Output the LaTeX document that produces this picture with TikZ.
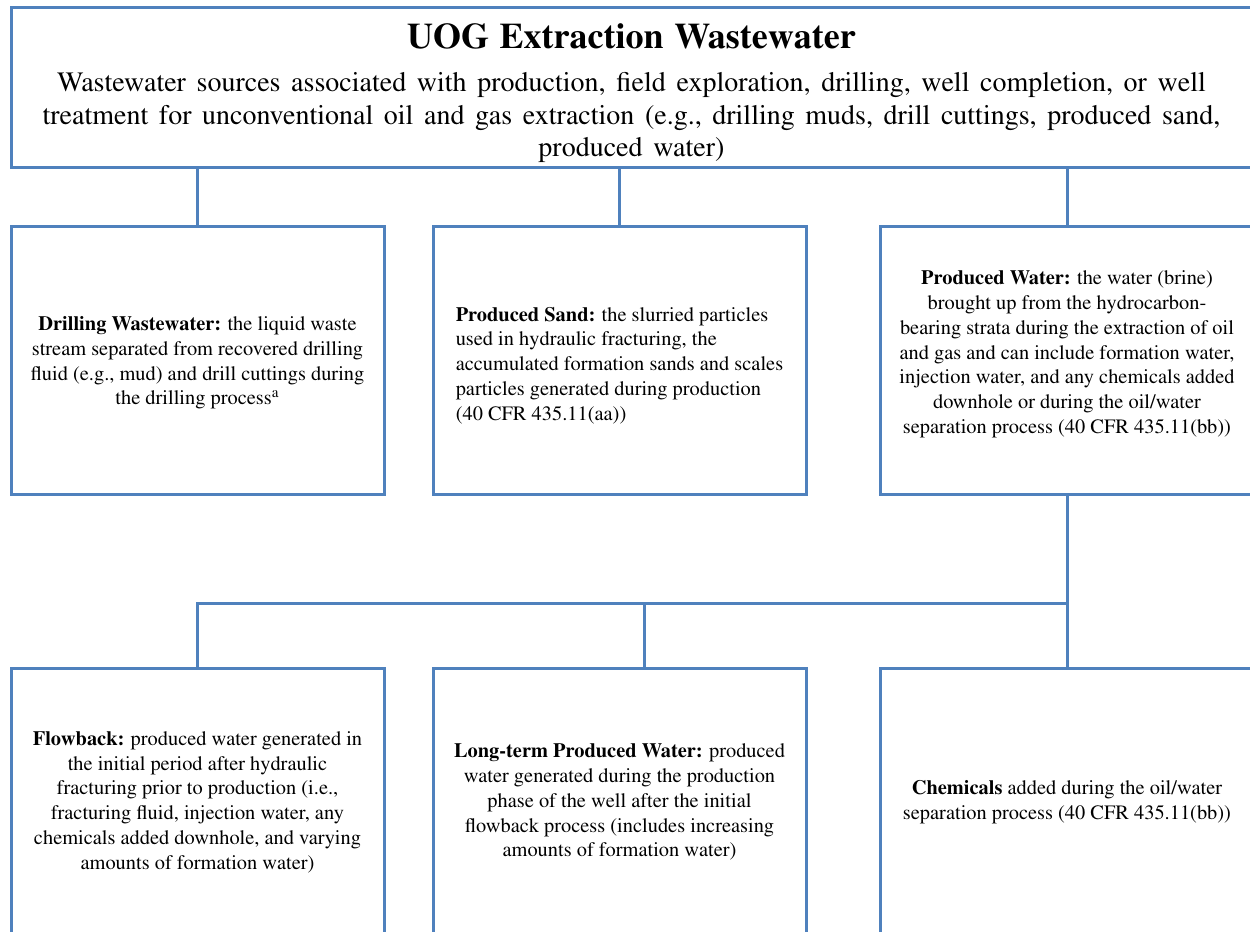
\documentclass[tikz,border=0pt]{standalone}
\usepackage[T1]{fontenc}
\usepackage{mathptmx}
\usepackage{tikz}
\definecolor{uogblue}{HTML}{4F81BD}
\newcommand{\widespace}{\spaceskip=5.3pt\relax}

\begin{document}
\begin{tikzpicture}[x=0.5pt,y=-0.5pt,
		box/.style={draw=uogblue, line width=1.5pt, rectangle, minimum width=186.5pt, minimum height=134pt, align=center, font=\fontsize{10.2}{12.4}\selectfont, inner sep=0pt},
		wire/.style={draw=uogblue, line width=1.5pt}]
			\useasboundingbox (0,0) rectangle (1250,932);
			\clip (0,0) rectangle (1250,932);

			\node[box, minimum width=620.5pt, minimum height=80pt, font=\fontsize{14}{16.25}\selectfont\widespace] (top) at (631.5,87)
				{{\fontsize{18}{20}\selectfont\bfseries\rule{0pt}{19pt}UOG Extraction Wastewater}\\[5.25pt]
				Wastewater sources associated with production, field exploration, drilling, well completion, or well\\
				treatment for unconventional oil and gas extraction (e.g., drilling muds, drill cuttings, produced sand,\\
				produced water)};

			\node[box] (drill) at (197.5,360) {\rule{0pt}{10pt}\textbf{Drilling Wastewater:} the liquid waste\\stream separated from recovered drilling\\fluid (e.g., mud) and drill cuttings during\\the drilling process\textsuperscript{a}};
			\node[box, align=left] (sand) at (619.5,360) {\rule{0pt}{12.5pt}\textbf{Produced Sand:} the slurried particles\\used in hydraulic fracturing, the\\accumulated formation sands and scales\\particles generated during production\\(40 CFR 435.11(aa))};
			\node[box] (pw) at (1067,360) {\textbf{Produced Water:} the water (brine)\\brought up from the hydrocarbon-\\bearing strata during the extraction of oil\\and gas and can include formation water,\\injection water, and any chemicals added\\downhole or during the oil/water\\separation process (40 CFR 435.11(bb))\rule[-8pt]{0pt}{0pt}};

			\node[box] (flow) at (197.5,802) {\textbf{Flowback:} produced water generated in\\the initial period after hydraulic\\fracturing prior to production (i.e.,\\fracturing fluid, injection water, any\\chemicals added downhole, and varying\\amounts of formation water)};
			\node[box] (lt) at (619.5,802) {\textbf{Long-term Produced Water:} produced\\water generated during the production\\phase of the well after the initial\\flowback process (includes increasing\\amounts of formation water)};
			\node[box] (chem) at (1067,802) {\textbf{Chemicals} added during the oil/water\\separation process (40 CFR 435.11(bb))};

			\coordinate (split) at (644,603);

			\draw[wire] (top.south -| drill) -- (drill.north);
			\draw[wire] (top.south -| sand) -- (sand.north);
			\draw[wire] (top.south -| pw) -- (pw.north);
			\draw[wire] (pw.south) -- (chem.north);
			\draw[wire] (flow.north) -- (flow.north |- split) -- (pw.south |- split);
			\draw[wire] (split) -- (split |- lt.north);
		\end{tikzpicture}
\end{document}
